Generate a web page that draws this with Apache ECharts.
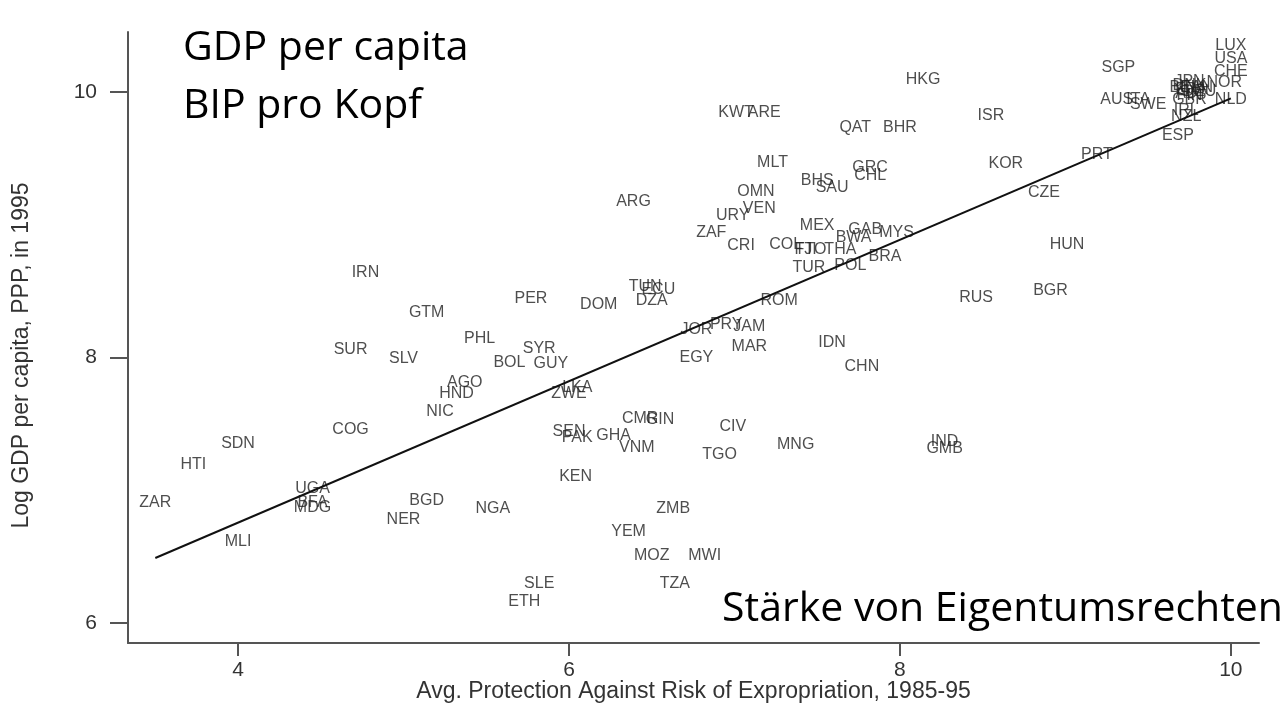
<!DOCTYPE html>
<html>
<head>
<meta charset="utf-8">
<title>GDP per capita vs. protection against expropriation</title>
<script src="https://cdn.jsdelivr.net/npm/echarts@6/dist/echarts.min.js"></script>
<style>
  html, body { margin: 0; padding: 0; background: #fff; }
  #chart { width: 1287px; height: 706px; }
</style>
</head>
<body>
<div id="chart"></div>
<script>
// country codes, avg. protection against expropriation (x), log GDP per capita 1995 (y)
const codes = [
  'ZAR', 'HTI', 'SDN', 'MLI', 'COG', 'UGA', 'BFA', 'MDG', 'NER', 'BGD',
  'NGA', 'NIC', 'HND', 'AGO', 'KEN', 'IRN', 'GTM', 'PER', 'DOM', 'TUN',
  'ECU', 'DZA', 'SUR', 'SLV', 'PHL', 'SYR', 'BOL', 'GUY', 'ZWE', 'LKA',
  'JOR', 'EGY', 'CMR', 'GIN', 'SEN', 'PAK', 'GHA', 'CIV', 'VNM', 'TGO',
  'MNG', 'IND', 'GMB', 'ZMB', 'YEM', 'MOZ', 'MWI', 'SLE', 'ETH', 'TZA',
  'TUR', 'POL', 'BRA', 'ROM', 'PRY', 'JAM', 'MAR', 'IDN', 'CHN', 'RUS',
  'BGR', 'HUN', 'KWT', 'ARE', 'QAT', 'BHR', 'MLT', 'GRC', 'CHL', 'BHS',
  'SAU', 'OMN', 'ARG', 'VEN', 'URY', 'ZAF', 'CRI', 'COL', 'MEX', 'FJI',
  'TTO', 'THA', 'GAB', 'BWA', 'MYS', 'HKG', 'ISR', 'KOR', 'CZE', 'PRT',
  'SGP', 'LUX', 'USA', 'CHE', 'NOR', 'NLD', 'AUS', 'ITA', 'SWE', 'GBR',
  'JPN', 'BEL', 'DNK', 'FRA', 'CAN', 'DEU', 'AUT', 'FIN', 'IRL', 'NZL',
  'ESP'
]
const protection = [
  3.50, 3.73, 4.00, 4.00, 4.68, 4.45, 4.45, 4.45, 5.00, 5.14,
  5.54, 5.22, 5.32, 5.37, 6.04, 4.77, 5.14, 5.77, 6.18, 6.46,
  6.54, 6.50, 4.68, 5.00, 5.46, 5.82, 5.64, 5.89, 6.00, 6.05,
  6.77, 6.77, 6.43, 6.55, 6.00, 6.05, 6.27, 6.99, 6.41, 6.91,
  7.37, 8.27, 8.27, 6.63, 6.36, 6.50, 6.82, 5.82, 5.73, 6.64,
  7.45, 7.70, 7.91, 7.27, 6.95, 7.09, 7.09, 7.59, 7.77, 8.46,
  8.91, 9.01, 7.01, 7.18, 7.73, 8.00, 7.23, 7.82, 7.82, 7.50,
  7.59, 7.13, 6.39, 7.15, 6.99, 6.86, 7.04, 7.31, 7.50, 7.43,
  7.46, 7.64, 7.79, 7.72, 7.98, 8.14, 8.55, 8.64, 8.87, 9.19,
  9.32, 10.00, 10.00, 10.00, 9.96, 10.00, 9.31, 9.44, 9.50, 9.75,
  9.75, 9.72, 9.75, 9.76, 9.79, 9.81, 9.76, 9.75, 9.73, 9.73,
  9.68
]
const logGdp = [
  6.91, 7.19, 7.35, 6.61, 7.46, 7.01, 6.91, 6.87, 6.78, 6.92,
  6.86, 7.59, 7.73, 7.81, 7.10, 8.64, 8.34, 8.44, 8.40, 8.53,
  8.51, 8.43, 8.06, 7.99, 8.14, 8.07, 7.96, 7.95, 7.73, 7.77,
  8.21, 8.00, 7.54, 7.53, 7.44, 7.40, 7.41, 7.48, 7.32, 7.27,
  7.34, 7.37, 7.31, 6.86, 6.69, 6.51, 6.51, 6.30, 6.16, 6.30,
  8.68, 8.69, 8.76, 8.43, 8.25, 8.23, 8.08, 8.11, 7.93, 8.45,
  8.50, 8.85, 9.84, 9.84, 9.73, 9.73, 9.47, 9.43, 9.37, 9.33,
  9.28, 9.25, 9.17, 9.12, 9.07, 8.94, 8.84, 8.85, 8.99, 8.81,
  8.81, 8.81, 8.96, 8.90, 8.94, 10.09, 9.82, 9.46, 9.24, 9.53,
  10.18, 10.35, 10.25, 10.15, 10.07, 9.94, 9.94, 9.94, 9.90, 9.94,
  10.08, 10.03, 10.05, 10.02, 10.03, 10.00, 9.99, 9.97, 9.86, 9.81,
  9.67
]
// fitted regression line, end points
const fitX = [3.50, 10.00]
const fitY = [6.49, 9.95]

const xTicks = [4, 6, 8, 10]
const yTicks = [6, 8, 10]

const chartInstance = echarts.init(document.getElementById('chart'))

const axisColor = '#555'
const textColor = '#333'

const chartSet = {
  animation: false,
  grid: {
    left: 128,
    right: 28,
    top: 32,
    bottom: 63,
    containLabel: false,
    outerBoundsMode: 'none',
  },
  xAxis: {
    type: 'value',
    min: 3.335,
    max: 10.17,
    name: 'Avg. Protection Against Risk of Expropriation, 1985-95',
    nameLocation: 'middle',
    nameGap: 37,
    nameMoveOverlap: false,
    nameTextStyle: {
      color: textColor,
      fontFamily: 'Liberation Sans',
      fontSize: 23,
    },
    axisLine: { show: true, onZero: false, lineStyle: { color: axisColor, width: 2 } },
    axisTick: {
      show: true,
      length: 13,
      customValues: xTicks,
      lineStyle: { color: axisColor, width: 2 },
    },
    axisLabel: {
      customValues: xTicks,
      margin: 17,
      color: textColor,
      fontFamily: 'Liberation Sans',
      fontSize: 21,
    },
    splitLine: { show: false },
  },
  yAxis: {
    type: 'value',
    min: 5.85,
    max: 10.45,
    name: 'Log GDP per capita, PPP, in 1995',
    nameLocation: 'middle',
    nameGap: 95,
    nameMoveOverlap: false,
    nameTextStyle: {
      color: textColor,
      fontFamily: 'Liberation Sans',
      fontSize: 23,
      padding: [0, 36, 0, 0],
    },
    axisLine: { show: true, onZero: false, lineStyle: { color: axisColor, width: 2 } },
    axisTick: {
      show: true,
      length: 18,
      customValues: yTicks,
      lineStyle: { color: axisColor, width: 2 },
    },
    axisLabel: {
      customValues: yTicks,
      margin: 31,
      color: textColor,
      fontFamily: 'Liberation Sans',
      fontSize: 21,
    },
    splitLine: { show: false },
  },
  graphic: [
    {
      type: 'text',
      left: 183,
      top: 19,
      style: {
        text: 'GDP per capita\nBIP pro Kopf',
        fill: '#000',
        font: '41px "Open Sans"',
        lineHeight: 58,
      },
    },
    {
      type: 'text',
      right: 4,
      top: 589,
      style: {
        text: 'Stärke von Eigentumsrechten',
        fill: '#000',
        font: '41px "Open Sans"',
      },
    },
  ],
  series: [],
}

// country labels drawn at their data points, no marker
chartSet.series.push({
  type: 'scatter',
  symbolSize: 0,
  data: codes.map((c, i) => ({ name: c, value: [protection[i], logGdp[i]] })),
  label: {
    show: true,
    position: 'inside',
    formatter: '{b}',
    color: '#222',
    fontFamily: 'Liberation Sans',
    fontSize: 16,
  },
  emphasis: { disabled: true },
  z: 3,
})

// fitted line
chartSet.series.push({
  type: 'line',
  data: fitX.map((x, i) => [x, fitY[i]]),
  symbol: 'none',
  lineStyle: { color: '#111', width: 2 },
  z: 4,
})

chartInstance.setOption(chartSet)
</script>
</body>
</html>
